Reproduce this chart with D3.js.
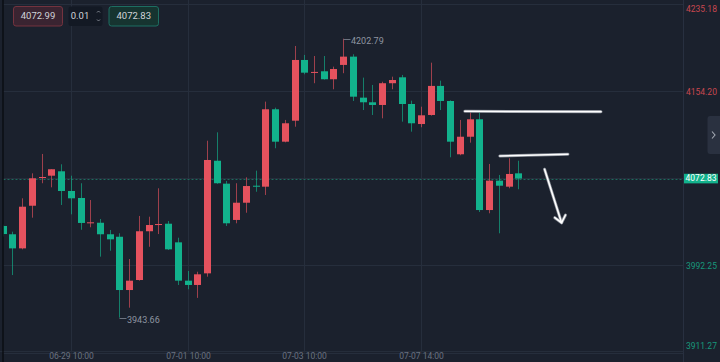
<!DOCTYPE html>
<html>
<head>
<meta charset="utf-8">
<script src="https://cdn.jsdelivr.net/npm/d3@7/dist/d3.min.js"></script>
<style>
    html, body { margin: 0; padding: 0; background: #1b212d; }
    svg { display: block; }
</style>
</head>
<body>
<script>

// candle data, 4h bars, red = up, green = down
var opens  = [4028.8, 4021.1, 4008.0, 4047.6, 4073.8, 4075.5, 4079.6, 4061.3, 4054.8, 4031.8,
              4031.8, 4021.1, 4018.8, 3969.3, 3978.6, 4023.9, 4030.2, 4030.9, 4013.6, 3978.0,
              3974.0, 3984.8, 4089.4, 4068.1, 4034.4, 4050.4, 4066.2, 4065.3, 4137.2, 4107.1,
              4126.6, 4183.0, 4171.5, 4172.5, 4165.1, 4178.4, 4186.1, 4148.0, 4143.7, 4141.2,
              4161.4, 4166.9, 4142.1, 4123.5, 4131.9, 4158.9, 4144.9, 4095.4, 4111.7, 4127.9,
              4043.6, 4070.9, 4065.3, 4077.7];
var highs  = [4030.0, 4023.5, 4054.5, 4077.7, 4095.7, 4081.5, 4086.1, 4075.5, 4068.5, 4052.9,
              4035.3, 4025.1, 4022.0, 3998.1, 4038.1, 4037.4, 4063.8, 4033.4, 4017.9, 3987.0,
              3986.3, 4108.0, 4115.8, 4070.6, 4068.5, 4074.0, 4080.2, 4144.3, 4138.7, 4127.3,
              4196.0, 4187.7, 4186.7, 4186.7, 4176.8, 4202.79, 4188.3, 4166.6, 4159.8, 4162.8,
              4167.5, 4169.1, 4145.2, 4139.6, 4180.5, 4163.8, 4145.5, 4127.3, 4135.0, 4134.0,
              4086.4, 4076.2, 4091.7, 4089.4];
var lows   = [4019.0, 3983.2, 4007.1, 4036.5, 4068.5, 4064.7, 4048.3, 4039.6, 4025.3, 4027.6,
              4000.3, 4005.8, 3943.66, 3952.9, 3978.0, 4009.5, 4021.3, 4006.5, 3974.0, 3970.0,
              3962.0, 3981.7, 4068.0, 4028.8, 4031.3, 4041.1, 4060.6, 4057.6, 4101.0, 4106.5,
              4121.0, 4169.7, 4161.4, 4164.8, 4155.8, 4170.7, 4144.9, 4136.5, 4131.9, 4128.8,
              4155.8, 4125.7, 4116.4, 4120.5, 4131.3, 4136.5, 4092.6, 4094.5, 4106.2, 4041.8,
              4040.6, 4022.0, 4063.8, 4062.9];
var closes = [4021.3, 4008.0, 4046.7, 4073.1, 4074.3, 4081.5, 4061.3, 4054.5, 4031.6, 4032.2,
              4021.1, 4016.4, 3969.3, 3978.0, 4023.9, 4029.7, 4030.6, 4007.1, 3978.0, 3974.0,
              3983.9, 4090.1, 4068.5, 4031.3, 4050.4, 4065.9, 4065.9, 4137.2, 4107.1, 4124.2,
              4183.0, 4171.2, 4171.9, 4165.1, 4174.6, 4186.1, 4148.9, 4143.7, 4141.2, 4161.4,
              4164.4, 4142.1, 4124.2, 4131.6, 4158.9, 4144.9, 4107.1, 4111.7, 4127.9, 4043.6,
              4070.9, 4066.2, 4077.1, 4072.83];

// price axis
var priceTicks = [4235.18, 4154.20, 4073.21, 3992.25, 3911.27];
var priceLabels = ['4235.18', '4154.20', '', '3992.25', '3911.27'];
var lastPrice = 4072.83;

// time axis (candle index of each label)
var timeTickIdx = [7, 19, 31, 43];
var timeLabels = ['06-29 10:00', '07-01 10:00', '07-03 10:00', '07-07 14:00'];

// extreme markers
var highMark = { idx: 35, price: 4202.79, text: '4202.79' };
var lowMark = { idx: 12, price: 3943.66, text: '3943.66' };

// top quote boxes
var quoteTexts = ['4072.99', '0.01', '4072.83'];

// hand drawn lines (candle index, price)
var drawnLines = [
    [[47.5, 4135.3], [61.5, 4135.0]],
    [[51.1, 4093.8], [58.1, 4095.4]],
    [[55.7, 4081.5], [57.45, 4031.8]],
    [[56.75, 4036.5], [57.45, 4031.8], [57.85, 4039.0]]
];

var width = 720,
    height = 362,
    plotLeft = 3.5,
    plotRight = 683.5,
    plotTop = 3.8,
    plotBottom = 352.5,
    upColor = '#e5525e',
    downColor = '#12b28c',
    bodyWidth = 7,
    fontFamily = 'Roboto, "Noto Sans", sans-serif';

var svg = d3.select('body')
    .append('svg')
    .attr('width', width)
    .attr('height', height);

svg.append('rect')
    .attr('width', width)
    .attr('height', height)
    .attr('fill', '#1b212d');

var xScale = d3.scaleLinear()
    .domain([0, 53])
    .range([2.7, 518.3]);

var yScale = d3.scaleLinear()
    .domain([3911.27, 4235.18])
    .range([plotBottom, plotTop]);

svg.append('clipPath')
    .attr('id', 'plotclip')
    .append('rect')
    .attr('x', plotLeft)
    .attr('y', 0)
    .attr('width', plotRight - plotLeft)
    .attr('height', plotBottom);

// grid
var grid = svg.append('g');

grid.selectAll('.hgrid')
    .data(priceTicks)
    .enter()
    .append('line')
    .attr('x1', plotLeft)
    .attr('x2', plotRight)
    .attr('y1', function(d) { return Math.round(yScale(d)) + 0.5; })
    .attr('y2', function(d) { return Math.round(yScale(d)) + 0.5; })
    .style('stroke', '#262e3c')
    .style('stroke-width', 1);

grid.selectAll('.vgrid')
    .data(timeTickIdx)
    .enter()
    .append('line')
    .attr('x1', function(d) { return Math.round(xScale(d)) + 0.5; })
    .attr('x2', function(d) { return Math.round(xScale(d)) + 0.5; })
    .attr('y1', 0)
    .attr('y2', plotBottom)
    .style('stroke', '#262e3c')
    .style('stroke-width', 1);

// current price dashed line
svg.append('line')
    .attr('x1', plotLeft)
    .attr('x2', plotRight)
    .attr('y1', Math.round(yScale(lastPrice)) + 0.5)
    .attr('y2', Math.round(yScale(lastPrice)) + 0.5)
    .style('stroke', '#1f6b5e')
    .style('stroke-dasharray', '2,2')
    .style('stroke-width', 1);

// candles
var candles = svg.append('g')
    .attr('clip-path', 'url(#plotclip)')
    .selectAll('g')
    .data(d3.range(opens.length))
    .enter()
    .append('g');

var colorOf = function(i) { return closes[i] >= opens[i] ? upColor : downColor; };

candles.append('line')
    .attr('x1', function(i) { return Math.round(xScale(i)) + 0.5; })
    .attr('x2', function(i) { return Math.round(xScale(i)) + 0.5; })
    .attr('y1', function(i) { return yScale(highs[i]); })
    .attr('y2', function(i) { return yScale(lows[i]); })
    .style('stroke', colorOf)
    .style('stroke-opacity', 0.65)
    .style('stroke-width', 1);

candles.append('rect')
    .attr('x', function(i) { return Math.round(xScale(i)) + 0.5 - bodyWidth / 2; })
    .attr('y', function(i) { return yScale(Math.max(opens[i], closes[i])); })
    .attr('width', bodyWidth)
    .attr('height', function(i) {
        return Math.max(1, Math.abs(yScale(opens[i]) - yScale(closes[i])));
    })
    .style('fill', colorOf);

// high / low markers
var markers = svg.append('g');

[highMark, lowMark].forEach(function(m) {
    var mx = Math.round(xScale(m.idx)) + 0.5,
        my = Math.round(yScale(m.price)) + 0.5;
    markers.append('line')
        .attr('x1', mx)
        .attr('x2', mx + 7)
        .attr('y1', my)
        .attr('y2', my)
        .style('stroke', '#6c7380')
        .style('stroke-width', 1);
    markers.append('text')
        .attr('x', mx + 7.5)
        .attr('y', my + 2.5)
        .attr('dominant-baseline', 'middle')
        .style('font-family', fontFamily)
        .style('font-size', '9px')
        .style('fill', '#8e95a1')
        .text(m.text);
});

// hand drawn lines
var drawPath = d3.line()
    .x(function(d) { return xScale(d[0]); })
    .y(function(d) { return yScale(d[1]); });

var drawings = svg.append('g');

drawings.selectAll('.shadow')
    .data(drawnLines)
    .enter()
    .append('path')
    .attr('d', drawPath)
    .style('fill', 'none')
    .style('stroke', '#8a8f99')
    .style('stroke-width', 3)
    .style('stroke-linecap', 'round')
    .style('stroke-linejoin', 'round');

drawings.selectAll('.pen')
    .data(drawnLines)
    .enter()
    .append('path')
    .attr('d', drawPath)
    .style('fill', 'none')
    .style('stroke', '#ffffff')
    .style('stroke-width', 1.6)
    .style('stroke-linecap', 'round')
    .style('stroke-linejoin', 'round');

// price axis
svg.append('line')
    .attr('x1', plotRight)
    .attr('x2', plotRight)
    .attr('y1', 0)
    .attr('y2', height)
    .style('stroke', '#283040')
    .style('stroke-width', 1);

svg.selectAll('.plabel')
    .data(priceTicks)
    .enter()
    .append('text')
    .attr('x', 686)
    .attr('y', function(d) {
        var y = yScale(d) + 1.5;
        return Math.min(Math.max(y, 9.5), 346.5);
    })
    .attr('dominant-baseline', 'middle')
    .style('font-family', fontFamily)
    .style('font-size', '8.5px')
    .style('fill', function(d) { return d > lastPrice ? '#c8474f' : '#17987b'; })
    .text(function(d, i) { return priceLabels[i]; });

// last price tag
var tagY = yScale(lastPrice);
svg.append('rect')
    .attr('x', 684)
    .attr('y', tagY - 4.8)
    .attr('width', 34)
    .attr('height', 9.6)
    .style('fill', '#13b28c');

svg.append('text')
    .attr('x', 701)
    .attr('y', tagY + 0.5)
    .attr('text-anchor', 'middle')
    .attr('dominant-baseline', 'middle')
    .style('font-family', fontFamily)
    .style('font-size', '8.5px')
    .style('fill', '#ffffff')
    .text(d3.format('.2f')(lastPrice));

// collapse tab on the right
svg.append('path')
    .attr('d', 'M720,116 L710,116 Q707.5,116 707.5,119 L707.5,151 Q707.5,154 710,154 L720,154 Z')
    .style('fill', '#2a3140');

svg.append('path')
    .attr('d', 'M712,131.5 L715,135 L712,138.5')
    .style('fill', 'none')
    .style('stroke', '#a4aab4')
    .style('stroke-width', 1.1);

// time axis
svg.append('line')
    .attr('x1', 0)
    .attr('x2', plotRight)
    .attr('y1', 351.5)
    .attr('y2', 351.5)
    .style('stroke', '#252d3a')
    .style('stroke-width', 1);

svg.selectAll('.tlabel')
    .data(timeTickIdx)
    .enter()
    .append('text')
    .attr('x', function(d) { return Math.round(xScale(d)) + 0.5; })
    .attr('y', 357)
    .attr('text-anchor', 'middle')
    .attr('dominant-baseline', 'middle')
    .style('font-family', fontFamily)
    .style('font-size', '8.5px')
    .style('fill', '#6a7280')
    .text(function(d, i) { return timeLabels[i]; });

// left border
svg.append('line')
    .attr('x1', 3)
    .attr('x2', 3)
    .attr('y1', 0)
    .attr('y2', height)
    .style('stroke', '#07090d')
    .style('stroke-width', 1.2);

// quote boxes at the top
var boxes = [
    { x: 13, w: 49, fill: '#3a2431', stroke: '#74333f' },
    { x: 68, w: 34, fill: '#131924', stroke: 'none' },
    { x: 108.5, w: 49.5, fill: '#163430', stroke: '#1d6e62' }
];

var quote = svg.append('g');

boxes.forEach(function(b, i) {
    quote.append('rect')
        .attr('x', b.x + 0.5)
        .attr('y', 6.5)
        .attr('width', b.w)
        .attr('height', 19.5)
        .attr('rx', 2.5)
        .style('fill', b.fill)
        .style('stroke', b.stroke)
        .style('stroke-width', 1);
    quote.append('text')
        .attr('x', i == 1 ? b.x + 12 : b.x + b.w / 2 + 0.5)
        .attr('y', 16.8)
        .attr('text-anchor', 'middle')
        .attr('dominant-baseline', 'middle')
        .style('font-family', fontFamily)
        .style('font-size', '9.5px')
        .style('fill', '#d0d3d9')
        .text(quoteTexts[i]);
});

// spinner arrows of the step box
quote.append('path')
    .attr('d', 'M97,12.5 L98.5,11 L100,12.5 M97,19.5 L98.5,21 L100,19.5')
    .style('fill', 'none')
    .style('stroke', '#8a909a')
    .style('stroke-width', 0.9);

</script>
</body>
</html>
